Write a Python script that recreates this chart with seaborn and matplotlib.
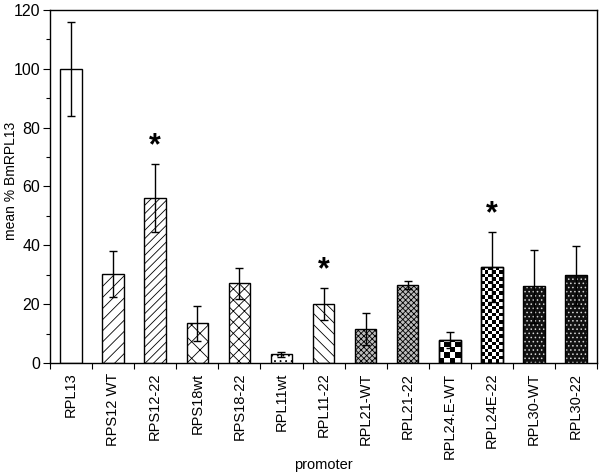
import numpy as np
import matplotlib
matplotlib.use("Agg")
import matplotlib.pyplot as plt
from matplotlib.ticker import MultipleLocator, FixedLocator
import seaborn as sns
import pandas as pd

# ========================
# Data
# ========================
promoters = ["RPL13", "RPS12 WT", "RPS12-22", "RPS18wt", "RPS18-22", "RPL11wt",
             "RPL11-22", "RPL21-WT", "RPL21-22", "RPL24.E-WT", "RPL24E-22",
             "RPL30-WT", "RPL30-22"]
mean_pct = [100, 30.2, 56, 13.5, 27.1, 3.0, 20.1, 11.5, 26.5, 7.7, 32.7, 26.1, 29.8]
sem = [16, 7.8, 11.5, 6.0, 5.3, 0.8, 5.5, 5.4, 1.4, 2.7, 11.9, 12.4, 10.0]
significant = ["RPS12-22", "RPL11-22", "RPL24E-22"]

# fill style per bar (approximating the greyscale patterns of the original)
hatches = ["", "///", "////", "xx", "xxx", "...", "\\\\\\", "xxxxxx", "xxxxxx",
           "", "", "....", "...."]
faces = ["white", "white", "white", "white", "white", "white", "white",
         "#bdbdbd", "#bdbdbd", "white", "white", "#111111", "#111111"]
checker_cols = {"RPL24.E-WT": 4, "RPL24E-22": 6}

BAR_W = 0.51

df = pd.DataFrame({"promoter": promoters, "mean": mean_pct})

sns.set_style("ticks", {"text.color": "black", "axes.labelcolor": "black",
                        "xtick.color": "black", "ytick.color": "black",
                        "axes.edgecolor": "black"})
plt.rcParams["font.family"] = ["Liberation Sans", "DejaVu Sans"]
plt.rcParams["hatch.linewidth"] = 0.6

fig = plt.figure(figsize=(6.02, 4.76), dpi=100)
ax = fig.add_axes([0.083, 0.2374, 0.909, 0.742])

sns.barplot(data=df, x="promoter", y="mean", color="white", edgecolor="black",
            linewidth=1.0, width=BAR_W, errorbar=None, ax=ax, saturation=1)

for i, patch in enumerate(ax.patches[:len(promoters)]):
    patch.set_facecolor(faces[i])
    patch.set_hatch(hatches[i])
    if faces[i] == "#111111":
        # white dots on black: hatch takes the edge colour, outline redrawn
        patch.set_edgecolor("#d8d8d8")
        patch.set_linewidth(0)
        ax.bar(i, mean_pct[i], width=BAR_W, fill=False, edgecolor="black",
               linewidth=1.0, zorder=3)

# checkerboard bars drawn as small squares
px_per_cat = 547 / 13
px_per_unit = 353 / 120
for i, name in enumerate(promoters):
    if name in checker_cols:
        n = checker_cols[name]
        sq_w = BAR_W / n
        sq_h = sq_w * px_per_cat / px_per_unit
        h = mean_pct[i]
        left = i - BAR_W / 2
        nrows = int(np.ceil(h / sq_h))
        for r in range(nrows):
            y0 = r * sq_h
            hh = min(sq_h, h - y0)
            for c in range(n):
                if (r + c) % 2 == 0:
                    ax.bar(left + c * sq_w, hh, width=sq_w, bottom=y0, align="edge",
                           color="black", linewidth=0, zorder=2)
        ax.bar(i, h, width=BAR_W, fill=False, edgecolor="black", linewidth=1.0, zorder=3)

ax.errorbar(np.arange(len(promoters)), mean_pct, yerr=sem, fmt="none",
            ecolor="black", elinewidth=1.0, capsize=3, capthick=1.0, zorder=4)

for i, name in enumerate(promoters):
    if name in significant:
        ax.text(i, mean_pct[i] + sem[i] + 6, "*", ha="center", va="center",
                fontsize=22, fontweight="bold", color="black")

ax.set_ylim(0, 120)
ax.set_xlim(-0.5, len(promoters) - 0.5)
ax.yaxis.set_major_locator(MultipleLocator(20))
ax.yaxis.set_minor_locator(MultipleLocator(10))
ax.xaxis.set_minor_locator(FixedLocator(np.arange(-0.5, len(promoters), 1.0)))
ax.tick_params(axis="x", which="major", length=0, labelsize=10.5, rotation=90, pad=7)
ax.tick_params(axis="x", which="minor", length=4, width=0.8, direction="out")
ax.tick_params(axis="y", which="major", length=5, width=0.8, labelsize=11.5, pad=2)
ax.tick_params(axis="y", which="minor", length=3, width=0.8)
for side in ["top", "right", "left", "bottom"]:
    ax.spines[side].set_visible(True)
    ax.spines[side].set_linewidth(1.0)

ax.set_xlabel("promoter", fontsize=10.5)
ax.set_ylabel("mean % BmRPL13", fontsize=10)
ax.xaxis.set_label_coords(0.5, -0.268)
ax.yaxis.set_label_coords(-0.059, 0.515)

fig.savefig("out.png", dpi=100)
